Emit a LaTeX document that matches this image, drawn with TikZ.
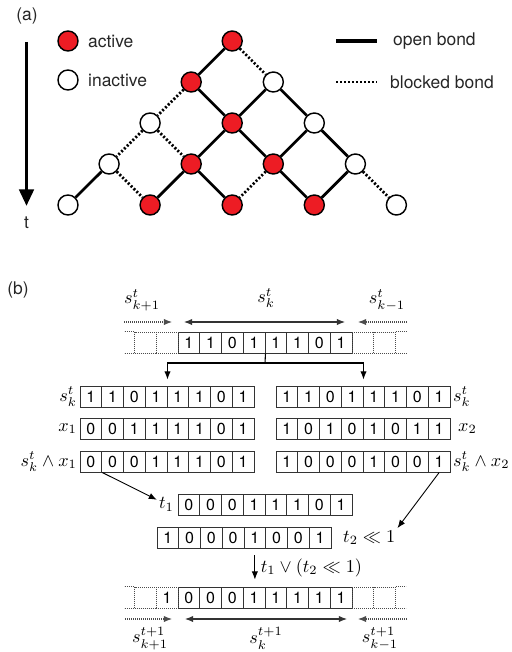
\documentclass[tikz,border=0pt]{standalone}
\usepackage{fontspec}
\setmainfont{TeX Gyre Heros}
\usepackage{amsmath}
\usepackage{amssymb}
\usetikzlibrary{arrows.meta}
\definecolor{actred}{HTML}{ED1C24}

\begin{document}
\begin{tikzpicture}[x=0.55pt, y=-0.55pt,
  site/.style={draw, circle, line width=0.8pt, minimum size=11pt, inner sep=0pt},
  act/.style={site, fill=actred},
  inact/.style={site, fill=white},
  open/.style={line width=1.5pt},
  blocked/.style={line width=1.5pt, dash pattern=on 1.1pt off 1.1pt},
  txt/.style={font=\fontsize{9.6}{11}\selectfont, text=black!85, inner sep=1pt},
  mlab/.style={font=\fontsize{10}{12}\selectfont, inner sep=1pt},
  cell/.style={draw=black!80, line width=0.55pt, rectangle, minimum width=11.96pt, minimum height=11.55pt, inner sep=0pt, font=\fontsize{8.8}{10}\selectfont},
  ghost/.style={cell, draw=black!70, line width=0.5pt, dash pattern=on 0.5pt off 0.6pt},
  ghostline/.style={draw=black!70, line width=0.5pt, dash pattern=on 0.5pt off 0.6pt},
  arr/.style={line width=0.6pt, -{Latex[length=4.5pt,width=3.5pt]}},
  darr/.style={line width=0.6pt, {Latex[length=4.5pt,width=3.5pt]}-{Latex[length=4.5pt,width=3.5pt]}}
]
\useasboundingbox (0,0) rectangle (511,652);

% ---------------- (a) ----------------
\node[txt] (lab-a) at (27,16) {(a)};

% Time axis
\coordinate (t-top) at (26.5,42);
\node[txt] (tlab) at (26.5,223) {t};
\draw[line width=1.6pt, -{Triangle[length=9pt,width=8pt]}, shorten >=5pt] (t-top) -- (tlab.north);

% Legend
\node[act] (leg-act) at (68,41) {};
\node[txt, anchor=west] (leg-act-txt) at (86,41) {active};
\node[inact] (leg-inact) at (68,80) {};
\node[txt, anchor=west] (leg-inact-txt) at (86,80) {inactive};

\coordinate (ob-a) at (336,41);
\coordinate (ob-b) at (377,41);
\draw[open, line width=1.7pt] (ob-a) -- (ob-b);
\node[txt, anchor=west] (ob-txt) at (391,41) {open bond};
\coordinate (bb-a) at (336,82);
\coordinate (bb-b) at (377,82);
\draw[blocked] (bb-a) -- (bb-b);
\node[txt, anchor=west] (bb-txt) at (388,82) {blocked bond};

% Lattice sites
\node[act] (r0c4) at (232.2,41) {};

\node[act] (r1c3) at (191.2,82) {};
\node[inact] (r1c5) at (273.3,82) {};

\node[inact] (r2c2) at (150.1,123) {};
\node[act] (r2c4) at (232.2,123) {};
\node[inact] (r2c6) at (314.3,123) {};

\node[inact] (r3c1) at (109.1,164) {};
\node[act] (r3c3) at (191.2,164) {};
\node[act] (r3c5) at (273.3,164) {};
\node[inact] (r3c7) at (355.4,164) {};

\node[inact] (r4c0) at (68,205) {};
\node[act] (r4c2) at (150.1,205) {};
\node[act] (r4c4) at (232.2,205) {};
\node[act] (r4c6) at (314.3,205) {};
\node[inact] (r4c8) at (396.4,205) {};

% Bonds
\draw[open] (r0c4) -- (r1c3);
\draw[blocked] (r0c4) -- (r1c5);

\draw[blocked] (r1c3) -- (r2c2);
\draw[open] (r1c3) -- (r2c4);
\draw[open] (r1c5) -- (r2c4);
\draw[open] (r1c5) -- (r2c6);

\draw[blocked] (r2c2) -- (r3c1);
\draw[blocked] (r2c2) -- (r3c3);
\draw[open] (r2c4) -- (r3c3);
\draw[open] (r2c4) -- (r3c5);
\draw[open] (r2c6) -- (r3c5);
\draw[open] (r2c6) -- (r3c7);

\draw[open] (r3c1) -- (r4c0);
\draw[blocked] (r3c1) -- (r4c2);
\draw[open] (r3c3) -- (r4c2);
\draw[open] (r3c3) -- (r4c4);
\draw[blocked] (r3c5) -- (r4c4);
\draw[open] (r3c5) -- (r4c6);
\draw[open] (r3c7) -- (r4c6);
\draw[blocked] (r3c7) -- (r4c8);

% ---------------- (b) ----------------
\node[txt] (lab-b) at (18,290) {(b)};

% Neighbour labels at time t
\node[mlab] (top-kp) at (142,300) {$s^t_{k+1}$};
\node[mlab] (top-k) at (266,298) {$s^t_k$};
\node[mlab] (top-km) at (387,300) {$s^t_{k-1}$};

\coordinate (tkp-a) at (124,322);
\coordinate (tkp-b) at (172,322);
\coordinate (tk-a) at (184,322);
\coordinate (tk-b) at (345,322);
\coordinate (tkm-a) at (407,322);
\coordinate (tkm-b) at (358,322);
\draw[ghostline, arr] (tkp-a) -- (tkp-b);
\draw[darr, draw=black!80] (tk-a) -- (tk-b);
\draw[ghostline, arr] (tkm-a) -- (tkm-b);

% Word s_k^t with neighbours
\foreach \b [count=\i] in {1,1,0,1,1,1,0,1}
  \node[cell] (sk-\i) at ({178+21.75*(\i-0.5)},342.5) {\b};
\node[ghost] (skl-1) at ({178-10.875},342.5) {};
\node[ghost] (skl-2) at ({178-32.625},342.5) {};
\node[ghost] (skr-1) at ({352+10.875},342.5) {};
\node[ghost] (skr-2) at ({352+32.625},342.5) {};
\draw[ghostline] (skl-2.north west) -- ++(-10,0);
\draw[ghostline] (skl-2.south west) -- ++(-10,0);
\draw[ghostline] (skr-2.north east) -- ++(11,0);
\draw[ghostline] (skr-2.south east) -- ++(11,0);

% Left column
\foreach \b [count=\i] in {1,1,0,1,1,1,0,1}
  \node[cell] (al-\i) at ({80+21.75*(\i-0.5)},396.5) {\b};
\foreach \b [count=\i] in {0,0,1,1,1,1,0,1}
  \node[cell] (xl-\i) at ({80+21.75*(\i-0.5)},428.5) {\b};
\foreach \b [count=\i] in {0,0,0,1,1,1,0,1}
  \node[cell] (andl-\i) at ({80+21.75*(\i-0.5)},461.5) {\b};
\node[mlab, anchor=east] (lab-al) at (79,396.5) {$s^t_k$};
\node[mlab, anchor=east] (lab-xl) at (79,428.5) {$x_1$};
\node[mlab, anchor=east] (lab-andl) at (79,461.5) {$s^t_k\wedge x_1$};

% Right column
\foreach \b [count=\i] in {1,1,0,1,1,1,0,1}
  \node[cell] (ar-\i) at ({276+21.75*(\i-0.5)},396.5) {\b};
\foreach \b [count=\i] in {1,0,1,0,1,0,1,1}
  \node[cell] (xr-\i) at ({276+21.75*(\i-0.5)},428.5) {\b};
\foreach \b [count=\i] in {1,0,0,0,1,0,0,1}
  \node[cell] (andr-\i) at ({276+21.75*(\i-0.5)},461.5) {\b};
\node[mlab, anchor=west] (lab-ar) at (451,396.5) {$s^t_k$};
\node[mlab, anchor=west] (lab-xr) at (456,428.5) {$x_2$};
\node[mlab, anchor=west] (lab-andr) at (451,461.5) {$s^t_k\wedge x_2$};

% Copy to both columns
\coordinate (split) at (265,363);
\draw[line width=0.6pt] (sk-4.south east) -- (split);
\draw[arr, shorten >=3.3pt] (split) -| (al-4.north east);
\draw[arr, shorten >=3.3pt] (split) -| (ar-4.north east);

% t1 and t2
\foreach \b [count=\i] in {0,0,0,1,1,1,0,1}
  \node[cell] (ta-\i) at ({178+21.75*(\i-0.5)},504.5) {\b};
\node[mlab, anchor=east] (t1lab) at (176,504.5) {$t_1$};

\foreach \b [count=\i] in {1,0,0,0,1,0,0,1}
  \node[cell] (tb-\i) at ({157+21.75*(\i-0.5)},537.5) {\b};
\node[mlab, anchor=west] (t2lab) at (341,537.5) {$t_2\ll 1$};

\draw[line width=0.5pt, -{Latex[length=4.5pt,width=3.5pt]}] (andl-1.south east) -- (t1lab);
\draw[line width=0.5pt, -{Latex[length=4.5pt,width=3.5pt]}] (andr-8.south) -- (t2lab.north east);

% Word s_k^{t+1}
\foreach \b [count=\i] in {0,0,0,1,1,1,1,1}
  \node[cell] (sn-\i) at ({178+21.75*(\i-0.5)},597.5) {\b};
\node[ghost] (snl-1) at ({178-10.875},597.5) {1};
\node[ghost] (snl-2) at ({178-32.625},597.5) {};
\node[ghost] (snr-1) at ({352+10.875},597.5) {};
\node[ghost] (snr-2) at ({352+32.625},597.5) {};
\draw[ghostline] (snl-2.north west) -- ++(-10,0);
\draw[ghostline] (snl-2.south west) -- ++(-10,0);
\draw[ghostline] (snr-2.north east) -- ++(10,0);
\draw[ghostline] (snr-2.south east) -- ++(10,0);

\draw[arr, shorten <=3.8pt, shorten >=3.8pt] (tb-5.south) -- (tb-5.south |- sn-4.north)
  node[mlab, midway, right=2pt] (orlab) {$t_1\vee(t_2\ll 1)$};

% Neighbour labels at time t+1
\coordinate (bkp-a) at (125,619);
\coordinate (bkp-b) at (172,619);
\coordinate (bk-a) at (185,619);
\coordinate (bk-b) at (347,619);
\coordinate (bkm-a) at (407,619);
\coordinate (bkm-b) at (358,619);
\draw[ghostline, arr] (bkp-a) -- (bkp-b);
\draw[darr, draw=black!80] (bk-a) -- (bk-b);
\draw[ghostline, arr] (bkm-a) -- (bkm-b);

\node[mlab] (bot-kp) at (150,638.5) {$s^{t+1}_{k+1}$};
\node[mlab] (bot-k) at (266,638.5) {$s^{t+1}_k$};
\node[mlab] (bot-km) at (380,638.5) {$s^{t+1}_{k-1}$};
\end{tikzpicture}
\end{document}
